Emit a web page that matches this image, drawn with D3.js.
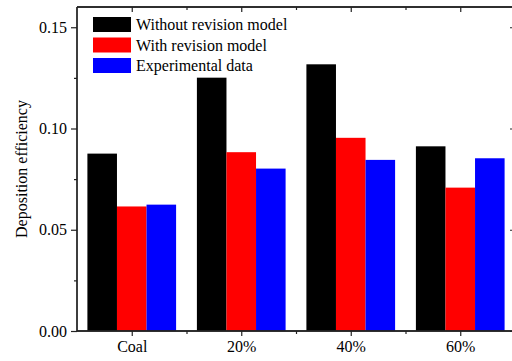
<!DOCTYPE html>
<html>
<head>
<meta charset="utf-8">
<script src="https://cdn.jsdelivr.net/npm/d3@7"></script>
<style>
  html, body { margin: 0; padding: 0; background: #fff; }
</style>
</head>
<body>
<div id="chart"></div>
<script>
// categories and series
const categories = ['Coal', '20%', '40%', '60%'];
const seriesNames = ['Without revision model', 'With revision model', 'Experimental data'];
const withoutRevision = [0.0876, 0.1251, 0.1317, 0.0912];
const withRevision = [0.0615, 0.0883, 0.0954, 0.0708];
const experimental = [0.0624, 0.0802, 0.0845, 0.0853];
const colors = ['#000000', '#ff0000', '#0000ff'];
const yTicks = [0.00, 0.05, 0.10, 0.15];
const yMinorTicks = [0.025, 0.075, 0.125];

const width = 512, height = 361;
const margin = { top: 7, right: -3, bottom: 30, left: 77 };
const serif = '"Liberation Serif", "Times New Roman", serif';

const svg = d3.select('#chart')
    .append('svg')
    .attr('width', width)
    .attr('height', height);

// x runs 0.5 .. 4.5, categories sit on 1..4
const x = d3.scaleLinear().domain([0.5, 4.5]).range([margin.left, width - margin.right]);
const y = d3.scaleLinear().domain([0, 0.16]).range([height - margin.bottom, margin.top]);

const series = [withoutRevision, withRevision, experimental];
const barW = 0.27;

// bars
series.forEach((vals, s) => {
    svg.append('g')
        .selectAll('rect')
        .data(vals)
        .enter()
        .append('rect')
        .attr('x', (d, i) => x(i + 1 + (s - 1.5) * barW))
        .attr('y', d => y(d))
        .attr('width', x(barW) - x(0))
        .attr('height', d => y(0) - y(d))
        .attr('fill', colors[s]);
});

// axes
const catPos = categories.map((c, i) => i + 1);
const minorX = [1.5, 2.5, 3.5];
const axisColor = '#222';

const xBottom = svg.append('g')
    .attr('transform', `translate(0, ${y(0)})`)
    .call(d3.axisBottom(x).tickValues(catPos).tickFormat((d, i) => categories[i]).tickSize(5).tickPadding(5));
xBottom.append('g').call(d3.axisBottom(x).tickValues(minorX).tickFormat('').tickSize(3));

// top frame, ticks pointing down into the plot
const xTop = svg.append('g')
    .attr('transform', `translate(0, ${y(0.16)})`)
    .call(d3.axisBottom(x).tickValues(catPos).tickFormat('').tickSize(5));
xTop.append('g').call(d3.axisBottom(x).tickValues(minorX).tickFormat('').tickSize(3));

const yLeft = svg.append('g')
    .attr('transform', `translate(${x(0.5)}, 0)`)
    .call(d3.axisLeft(y).tickValues(yTicks).tickFormat(d3.format('.2f')).tickSize(6).tickPadding(4));
yLeft.append('g').call(d3.axisLeft(y).tickValues(yMinorTicks).tickFormat('').tickSize(3));

// right frame, ticks pointing left into the plot
const yRight = svg.append('g')
    .attr('transform', `translate(${x(4.5)}, 0)`)
    .call(d3.axisLeft(y).tickValues(yTicks).tickFormat('').tickSize(5));
yRight.append('g').call(d3.axisLeft(y).tickValues(yMinorTicks).tickFormat('').tickSize(3));

svg.selectAll('.domain').attr('stroke', axisColor).attr('stroke-width', 1.3);
svg.selectAll('.tick line').attr('stroke', axisColor).attr('stroke-width', 1.2);
svg.selectAll('.tick text').attr('font-size', 16).attr('fill', '#000').style('font-family', serif);
[xBottom, xTop].forEach(g => g.selectAll('path.domain').attr('d', `M${x(0.5)},0H${x(4.5)}`));
[yLeft, yRight].forEach(g => g.selectAll('path.domain').attr('d', `M0,${y(0)}V${y(0.16)}`));

// y axis title
svg.append('text')
    .attr('transform', `translate(27, ${(y(0) + y(0.16)) / 2}) rotate(-90)`)
    .attr('text-anchor', 'middle')
    .attr('font-size', 16)
    .attr('fill', '#000')
    .style('font-family', serif)
    .text('Deposition efficiency');

// legend
const legend = svg.append('g').attr('transform', 'translate(93, 17)');
seriesNames.forEach((name, i) => {
    const row = legend.append('g').attr('transform', `translate(0, ${i * 20.5})`);
    row.append('rect').attr('width', 38).attr('height', 15).attr('fill', colors[i]);
    row.append('text').attr('x', 43).attr('y', 13).attr('font-size', 16).attr('fill', '#000')
        .style('font-family', serif).text(name);
});
</script>
</body>
</html>
